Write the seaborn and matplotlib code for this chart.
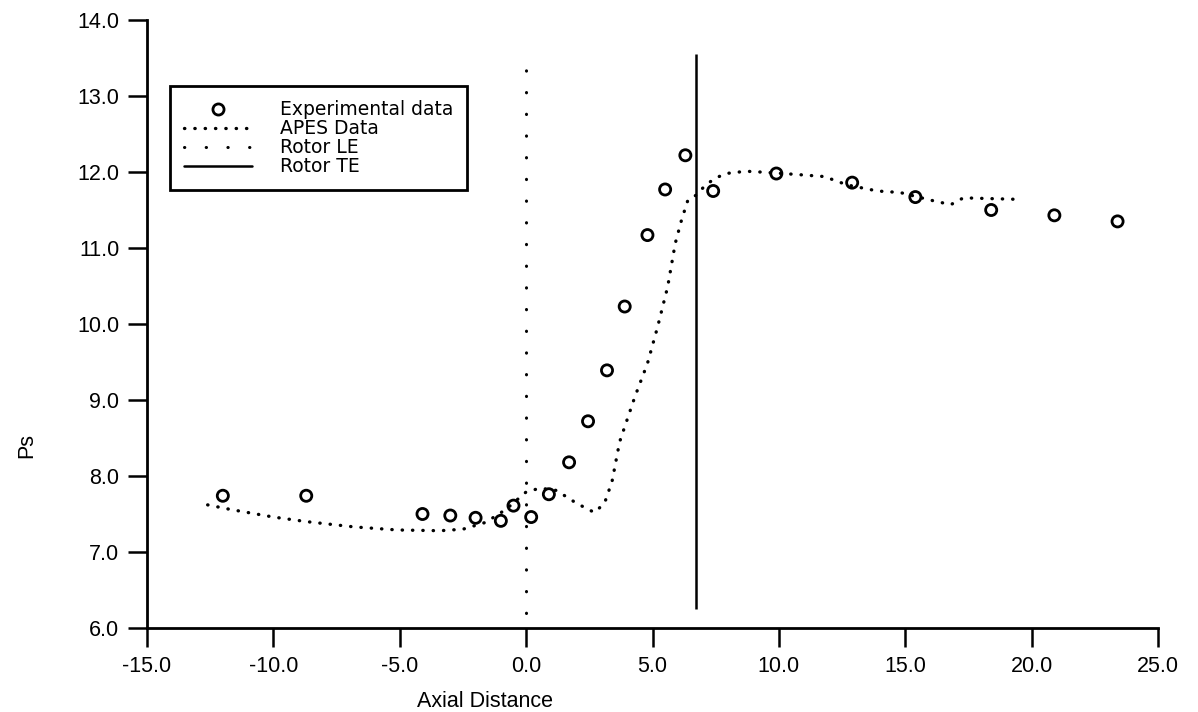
import numpy as np
import pandas as pd
import matplotlib
matplotlib.use("Agg")
import matplotlib.pyplot as plt
import seaborn as sns
from matplotlib.lines import Line2D

# ---------------- data ----------------
exp_x = [-12.0, -8.7, -4.1, -3.0, -2.0, -1.0, -0.5, 0.2, 0.9, 1.7, 2.45,
         3.2, 3.9, 4.8, 5.5, 6.3, 7.4, 9.9, 12.9, 15.4, 18.4, 20.9, 23.4]
exp_y = [7.74, 7.74, 7.50, 7.48, 7.45, 7.41, 7.61, 7.46, 7.76, 8.18, 8.72,
         9.39, 10.23, 11.17, 11.77, 12.22, 11.75, 11.98, 11.86, 11.67, 11.50, 11.43, 11.35]

apes_x = [-12.6, -11.7, -10.0, -8.7, -6.8, -5.1, -3.4, -2.5, -1.6, -0.8, 0.0,
          0.55, 1.2, 2.0, 2.7, 3.1, 3.4, 3.7, 4.3, 4.8, 5.2, 5.6, 5.9, 6.15,
          6.4, 6.75, 7.1, 7.5, 7.9, 8.7, 9.25, 10.6, 11.8, 12.7, 13.9, 14.8,
          16.0, 16.8, 17.3, 18.35, 19.5]
apes_y = [7.62, 7.56, 7.46, 7.40, 7.33, 7.29, 7.28, 7.30, 7.39, 7.56, 7.79,
          7.84, 7.81, 7.64, 7.52, 7.64, 7.93, 8.45, 9.04, 9.48, 9.96, 10.49, 11.06, 11.37,
          11.63, 11.70, 11.83, 11.92, 11.98, 12.01, 12.00, 11.97, 11.94, 11.83, 11.75, 11.73,
          11.63, 11.57, 11.66, 11.65, 11.64]

rotor_le_x = 0.0
rotor_le_y = [6.2, 13.42]
rotor_te_x = 6.72
rotor_te_y = [6.25, 13.55]

x_ticks = [-15.0, -10.0, -5.0, 0.0, 5.0, 10.0, 15.0, 20.0, 25.0]
y_ticks = [6.0, 7.0, 8.0, 9.0, 10.0, 11.0, 12.0, 13.0, 14.0]

legend_labels = ["Experimental data", "APES Data", "Rotor LE", "Rotor TE"]

# ---------------- style ----------------
sns.set_style("ticks")
plt.rcParams["font.family"] = ["Liberation Sans", "DejaVu Sans"]
plt.rcParams["text.color"] = "black"
plt.rcParams["axes.labelcolor"] = "black"
plt.rcParams["xtick.color"] = "black"
plt.rcParams["ytick.color"] = "black"

fig = plt.figure(figsize=(11.98, 7.12), dpi=100)
ax = fig.add_axes([147 / 1198, 1 - 628 / 712, 1011 / 1198, 608 / 712])

exp_df = pd.DataFrame({"x": exp_x, "y": exp_y})
apes_df = pd.DataFrame({"x": apes_x, "y": apes_y})

apes_dash = (0.1, 3.0)
le_dash = (0.1, 7.0)

sns.lineplot(data=apes_df, x="x", y="y", ax=ax, color="black", lw=2.4,
             sort=False, estimator=None, dashes=False,
             linestyle=(0, apes_dash), dash_capstyle="round")

ax.vlines([rotor_le_x], rotor_le_y[0], rotor_le_y[1], colors="black",
          linewidth=2.2, linestyles=[(0, le_dash)], capstyle="round")
ax.vlines([rotor_te_x], rotor_te_y[0], rotor_te_y[1], colors="black",
          linewidth=1.8)

sns.scatterplot(data=exp_df, x="x", y="y", ax=ax, s=64, marker="o",
                facecolor="none", edgecolor="black", linewidth=2.0, zorder=5)

ax.set_xlim(-15, 25)
ax.set_ylim(6, 14)
ax.set_xticks(x_ticks)
ax.set_yticks(y_ticks)
ax.set_xticklabels([f"{v:.1f}" for v in x_ticks])
ax.set_yticklabels([f"{v:.1f}" for v in y_ticks])
ax.tick_params(axis="both", direction="out", length=14, width=1.8,
               labelsize=15.5, pad=6, colors="black")
for side in ["top", "right"]:
    ax.spines[side].set_visible(False)
for side in ["left", "bottom"]:
    ax.spines[side].set_linewidth(2.0)
    ax.spines[side].set_color("black")

ax.set_xlabel("Axial Distance", fontsize=15.5, color="black")
ax.set_ylabel("Ps", fontsize=15.5, color="black")
ax.xaxis.set_label_coords(0.334, -0.103)
ax.yaxis.set_label_coords(-0.109, 0.30)

handles = [
    Line2D([], [], linestyle="none", marker="o", markersize=8, markerfacecolor="none",
           markeredgecolor="black", markeredgewidth=2.0),
    Line2D([], [], color="black", lw=2.4, linestyle=(0, apes_dash), dash_capstyle="round"),
    Line2D([], [], color="black", lw=2.2, linestyle=(0, le_dash), dash_capstyle="round"),
    Line2D([], [], color="black", lw=1.8),
]
leg = fig.legend(handles, legend_labels, loc="upper left",
                 bbox_to_anchor=(170 / 1198, 1 - 86 / 712), borderaxespad=0,
                 prop={"family": ["DejaVu Sans"], "size": 13.5},
                 handlelength=3.6, handletextpad=1.5, borderpad=0.75,
                 labelspacing=0.0, fancybox=False, framealpha=1,
                 edgecolor="black", labelcolor="black")
leg.get_frame().set_linewidth(2.0)

fig.savefig("out.png", dpi=100, facecolor="white")
